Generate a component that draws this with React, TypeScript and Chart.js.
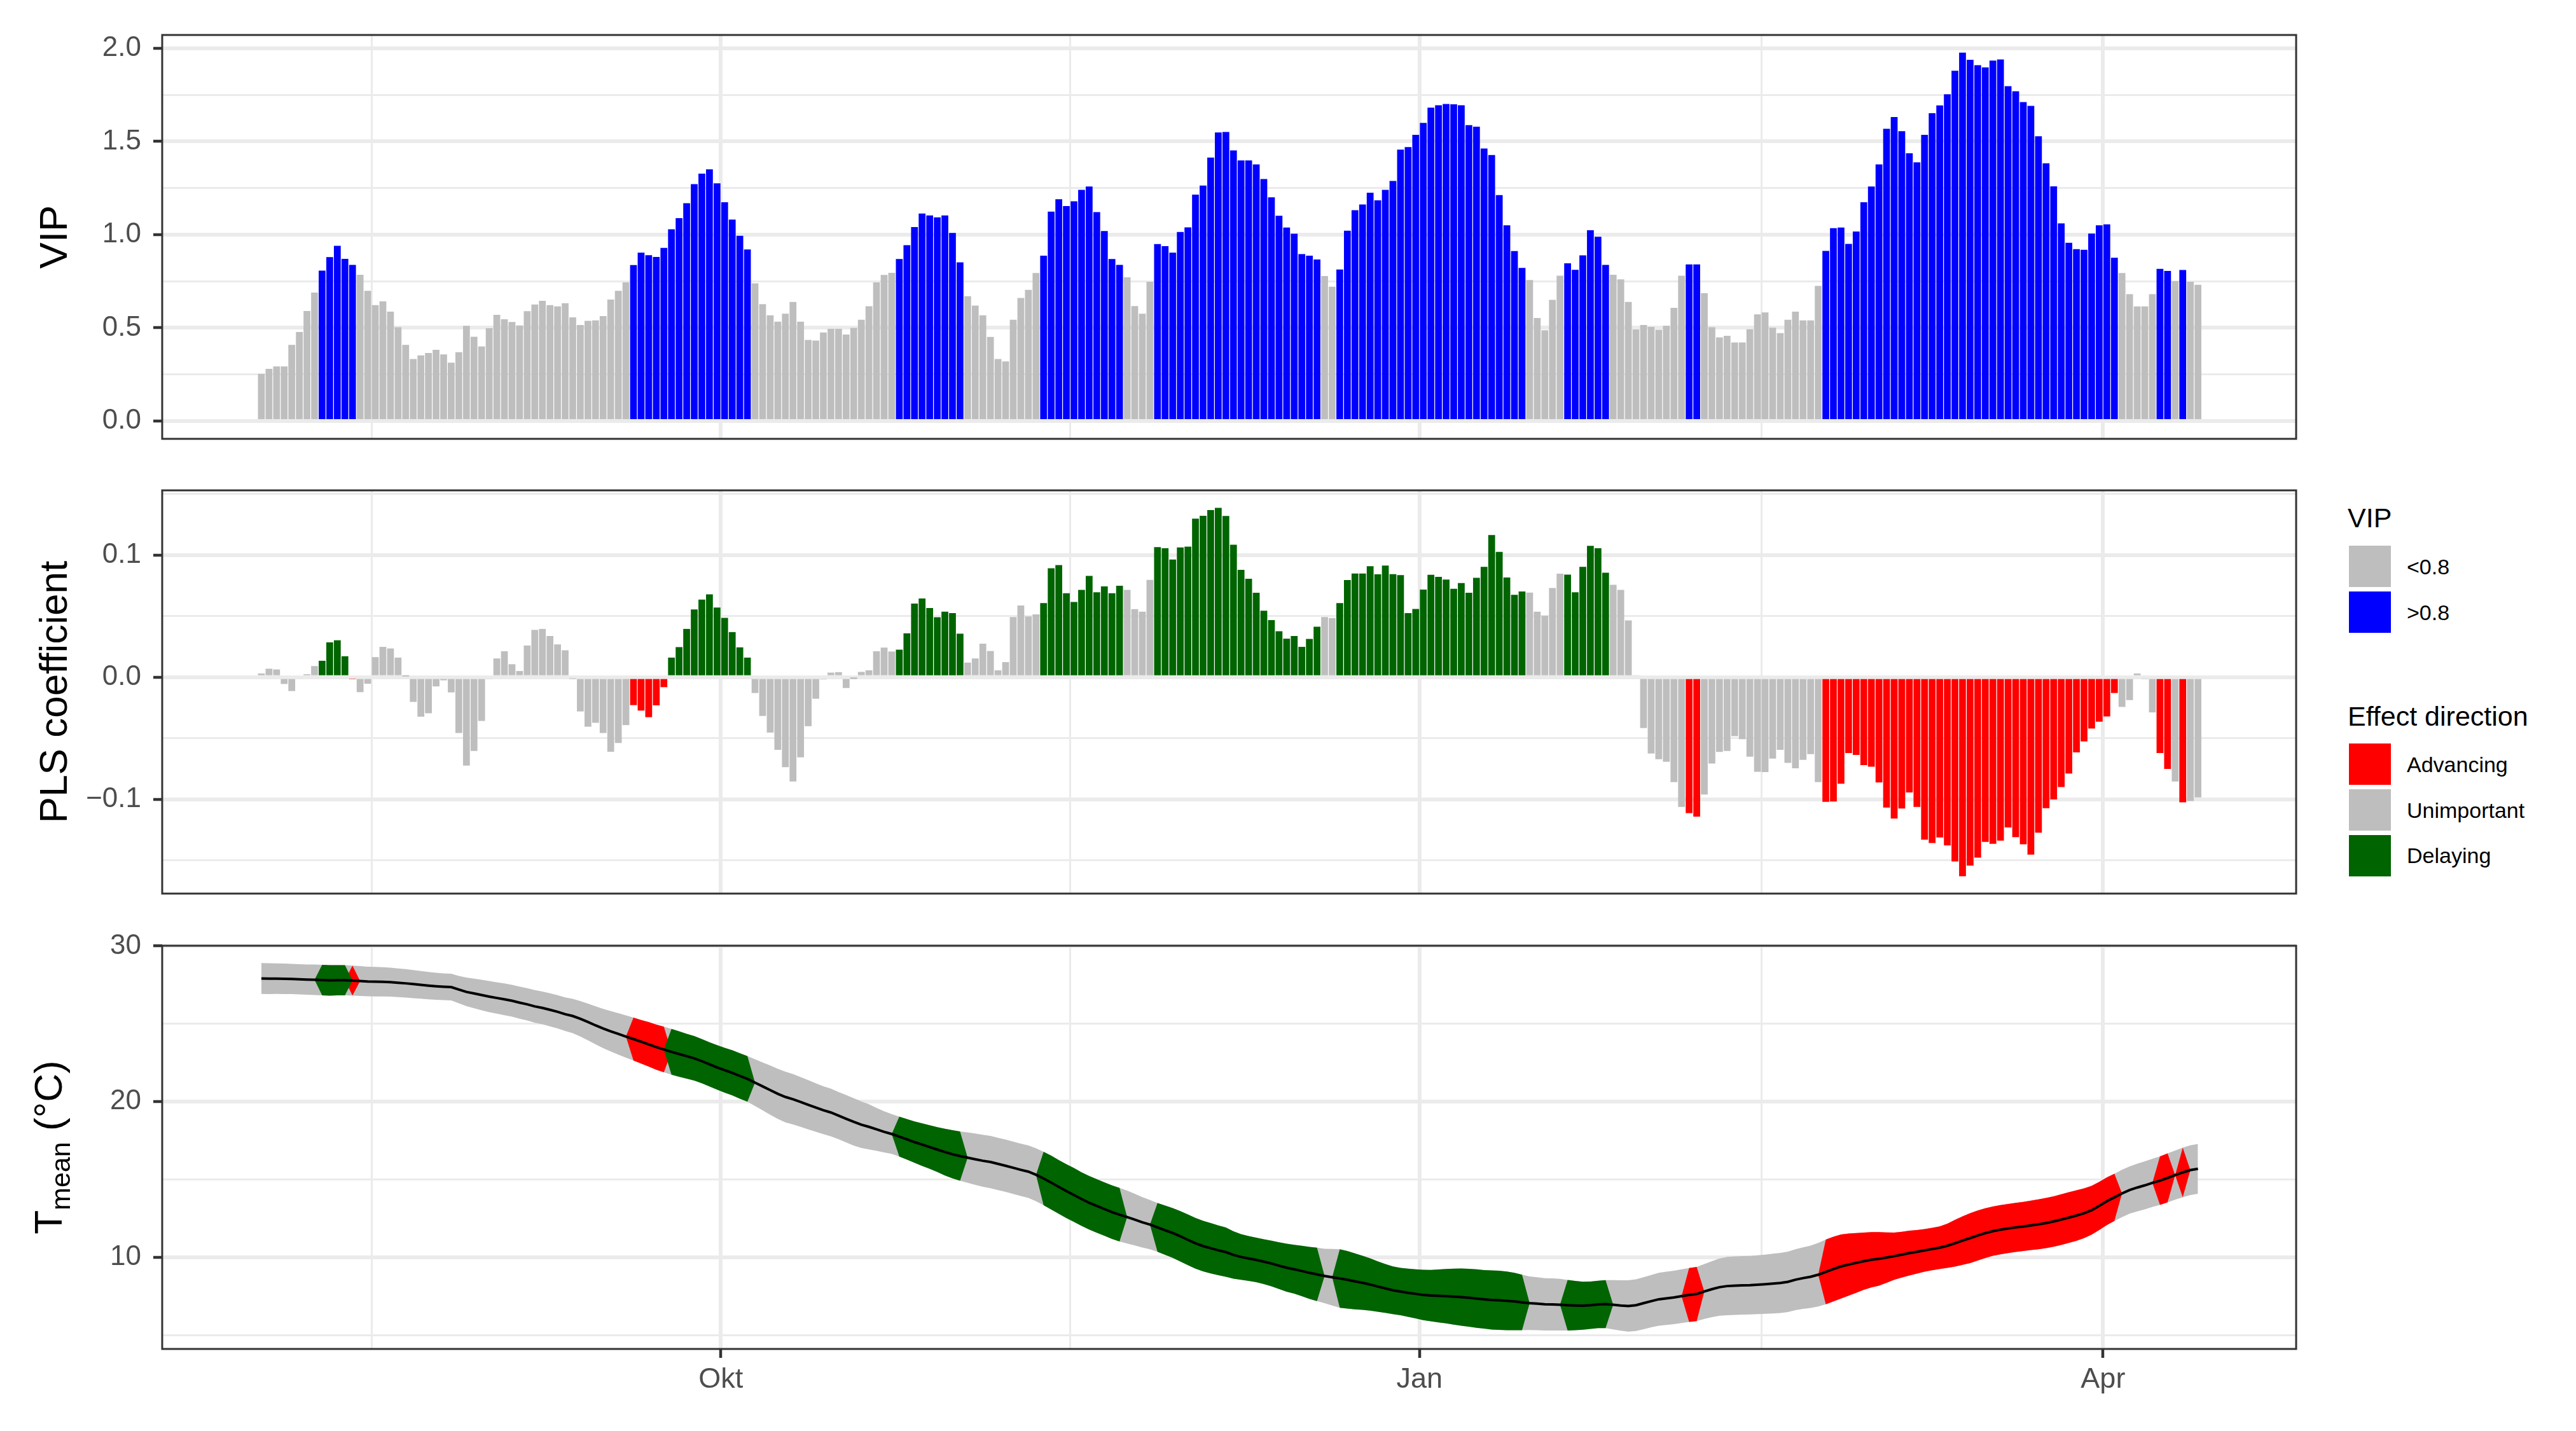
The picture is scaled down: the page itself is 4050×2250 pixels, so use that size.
import React, { useEffect, useRef } from 'react';
import { Chart, registerables } from 'chart.js';

Chart.register(...registerables);

const FONT = "'Liberation Sans', Arial, Helvetica, sans-serif";

// ---- Data: one value per day, day 0 = 2 Aug ----
const VIP: number[] = [
  0.253, 0.28, 0.293, 0.293, 0.409, 0.478, 0.59, 0.689, 0.807, 0.879,
  0.94, 0.87, 0.838, 0.785, 0.699, 0.622, 0.642, 0.587, 0.503, 0.409,
  0.333, 0.352, 0.365, 0.382, 0.357, 0.313, 0.369, 0.511, 0.452, 0.4,
  0.498, 0.57, 0.546, 0.531, 0.513, 0.589, 0.625, 0.645, 0.622, 0.615,
  0.632, 0.556, 0.515, 0.537, 0.54, 0.563, 0.652, 0.699, 0.744, 0.837,
  0.903, 0.89, 0.88, 0.929, 1.029, 1.088, 1.169, 1.271, 1.327, 1.35,
  1.275, 1.174, 1.081, 0.994, 0.92, 0.739, 0.627, 0.567, 0.533, 0.576,
  0.639, 0.533, 0.435, 0.432, 0.475, 0.495, 0.495, 0.464, 0.5, 0.543,
  0.616, 0.744, 0.784, 0.795, 0.869, 0.943, 1.041, 1.113, 1.103, 1.093,
  1.103, 1.009, 0.851, 0.67, 0.619, 0.567, 0.451, 0.333, 0.32, 0.543,
  0.66, 0.704, 0.794, 0.887, 1.123, 1.19, 1.153, 1.179, 1.24, 1.258,
  1.121, 1.019, 0.869, 0.838, 0.771, 0.617, 0.576, 0.747, 0.949, 0.938,
  0.903, 1.014, 1.039, 1.215, 1.263, 1.413, 1.548, 1.551, 1.452, 1.398,
  1.398, 1.377, 1.298, 1.2, 1.101, 1.038, 1.005, 0.896, 0.887, 0.867,
  0.778, 0.721, 0.813, 1.021, 1.131, 1.162, 1.225, 1.184, 1.24, 1.288,
  1.456, 1.47, 1.535, 1.599, 1.681, 1.694, 1.701, 1.699, 1.694, 1.587,
  1.579, 1.462, 1.427, 1.212, 1.05, 0.912, 0.821, 0.757, 0.553, 0.487,
  0.65, 0.78, 0.846, 0.811, 0.889, 1.024, 0.989, 0.838, 0.785, 0.76,
  0.639, 0.491, 0.515, 0.505, 0.49, 0.511, 0.607, 0.78, 0.84, 0.84,
  0.686, 0.503, 0.449, 0.457, 0.421, 0.421, 0.492, 0.572, 0.583, 0.501,
  0.472, 0.543, 0.587, 0.54, 0.54, 0.725, 0.913, 1.035, 1.038, 0.95,
  1.017, 1.174, 1.258, 1.377, 1.568, 1.631, 1.555, 1.436, 1.388, 1.535,
  1.651, 1.693, 1.753, 1.879, 1.976, 1.938, 1.909, 1.897, 1.934, 1.94,
  1.796, 1.769, 1.711, 1.691, 1.528, 1.383, 1.259, 1.06, 0.956, 0.922,
  0.919, 1.006, 1.05, 1.055, 0.876, 0.794, 0.681, 0.615, 0.615, 0.681,
  0.816, 0.805, 0.751, 0.81, 0.747, 0.731,
];

const PLS_COEF: number[] = [
  0.003, 0.0069, 0.0063, -0.0056, -0.0114, -0.0015, 0.0024, 0.0091, 0.0134, 0.0285,
  0.0302, 0.0171, -0.0013, -0.0123, -0.0054, 0.0164, 0.0248, 0.0235, 0.016, 0.0005,
  -0.0203, -0.0324, -0.0296, -0.0076, -0.0026, -0.0125, -0.0458, -0.0724, -0.0605, -0.0359,
  -0.0017, 0.0153, 0.0212, 0.0106, 0.005, 0.0259, 0.0387, 0.0395, 0.0337, 0.0268,
  0.022, -0.001, -0.0281, -0.0406, -0.0374, -0.0458, -0.0611, -0.054, -0.0393, -0.0229,
  -0.0274, -0.0328, -0.0231, -0.0082, 0.016, 0.0246, 0.0395, 0.0555, 0.0635, 0.0678,
  0.057, 0.0486, 0.0369, 0.0244, 0.016, -0.013, -0.0318, -0.0454, -0.0596, -0.0737,
  -0.0855, -0.0657, -0.0402, -0.0177, -0.0019, 0.0037, 0.0041, -0.0089, -0.0002, 0.0043,
  0.0056, 0.0212, 0.0242, 0.021, 0.0225, 0.0359, 0.0603, 0.0644, 0.0566, 0.049,
  0.0536, 0.0525, 0.0356, 0.0119, 0.0153, 0.0274, 0.0214, 0.0056, 0.0123, 0.0492,
  0.0587, 0.0497, 0.0514, 0.0607, 0.0892, 0.0918, 0.0687, 0.0616, 0.0715, 0.0829,
  0.0695, 0.0743, 0.0687, 0.0749, 0.0715, 0.0557, 0.0536, 0.0797, 0.1065, 0.1056,
  0.0963, 0.1063, 0.1069, 0.1298, 0.1322, 0.1369, 0.1387, 0.132, 0.1084, 0.0879,
  0.0806, 0.0691, 0.0544, 0.0467, 0.0376, 0.0315, 0.0337, 0.0248, 0.0313, 0.0413,
  0.0492, 0.0484, 0.0607, 0.0795, 0.0849, 0.0849, 0.0909, 0.0842, 0.0914, 0.0844,
  0.0836, 0.0525, 0.0559, 0.0717, 0.0838, 0.0821, 0.0799, 0.0724, 0.0771, 0.0691,
  0.0814, 0.0903, 0.1164, 0.1026, 0.0816, 0.0674, 0.0702, 0.0693, 0.0536, 0.0503,
  0.073, 0.0847, 0.084, 0.0695, 0.0903, 0.1076, 0.1056, 0.0855, 0.0756, 0.0715,
  0.0464, 0.0017, -0.0417, -0.0626, -0.0672, -0.0693, -0.086, -0.1063, -0.1114, -0.1143,
  -0.0961, -0.0708, -0.0613, -0.0605, -0.0484, -0.0508, -0.0652, -0.0775, -0.0778, -0.0667,
  -0.0596, -0.0702, -0.0747, -0.0678, -0.0631, -0.086, -0.1022, -0.1019, -0.0873, -0.0622,
  -0.0637, -0.0721, -0.0734, -0.0862, -0.1069, -0.1158, -0.1076, -0.0944, -0.1063, -0.1331,
  -0.1359, -0.1313, -0.1378, -0.151, -0.1631, -0.1544, -0.1479, -0.135, -0.1365, -0.1339,
  -0.1231, -0.1311, -0.1369, -0.1454, -0.1274, -0.1073, -0.1002, -0.0901, -0.079, -0.0616,
  -0.0527, -0.0421, -0.0365, -0.0322, -0.013, -0.0244, -0.0188, 0.003, -0.0013, -0.0289,
  -0.0622, -0.0752, -0.0855, -0.1026, -0.1015, -0.0985,
];

const TEMP_MEAN: number[] = [
  27.91, 27.9, 27.9, 27.89, 27.88, 27.86, 27.84, 27.83, 27.81, 27.79,
  27.8, 27.8, 27.78, 27.75, 27.72, 27.71, 27.7, 27.68, 27.64, 27.6,
  27.55, 27.5, 27.45, 27.41, 27.38, 27.36, 27.2, 27.05, 26.95, 26.85,
  26.75, 26.66, 26.57, 26.48, 26.36, 26.25, 26.12, 26.02, 25.9, 25.77,
  25.62, 25.5, 25.32, 25.12, 24.9, 24.7, 24.52, 24.35, 24.18, 24.02,
  23.85, 23.68, 23.5, 23.35, 23.2, 23.06, 22.92, 22.78, 22.6, 22.4,
  22.2, 22.02, 21.85, 21.65, 21.46, 21.22, 20.98, 20.74, 20.5, 20.3,
  20.15, 19.98, 19.8, 19.62, 19.45, 19.3, 19.1, 18.9, 18.7, 18.52,
  18.38, 18.22, 18.06, 17.92, 17.75, 17.58, 17.4, 17.24, 17.08, 16.92,
  16.76, 16.62, 16.5, 16.4, 16.3, 16.2, 16.12, 16.0, 15.88, 15.75,
  15.62, 15.5, 15.3, 15.06, 14.8, 14.52, 14.25, 14.0, 13.74, 13.5,
  13.3, 13.1, 12.9, 12.74, 12.58, 12.42, 12.25, 12.1, 11.92, 11.74,
  11.56, 11.35, 11.12, 10.9, 10.72, 10.58, 10.45, 10.33, 10.15, 10.02,
  9.92, 9.83, 9.72, 9.6, 9.46, 9.33, 9.23, 9.12, 9.0, 8.9,
  8.8, 8.72, 8.64, 8.55, 8.45, 8.36, 8.25, 8.12, 8.0, 7.88,
  7.8, 7.72, 7.65, 7.58, 7.54, 7.52, 7.5, 7.47, 7.44, 7.4,
  7.35, 7.3, 7.26, 7.24, 7.2, 7.16, 7.1, 7.05, 7.02, 6.98,
  6.97, 6.95, 6.92, 6.9, 6.89, 6.92, 6.97, 6.99, 6.95, 6.9,
  6.87, 6.92, 7.05, 7.18, 7.3, 7.36, 7.42, 7.5, 7.58, 7.64,
  7.8, 7.95, 8.08, 8.15, 8.18, 8.2, 8.21, 8.24, 8.27, 8.31,
  8.35, 8.42, 8.56, 8.66, 8.75, 8.88, 9.06, 9.24, 9.41, 9.53,
  9.64, 9.75, 9.84, 9.9, 9.98, 10.07, 10.17, 10.27, 10.35, 10.44,
  10.53, 10.62, 10.74, 10.9, 11.07, 11.23, 11.4, 11.55, 11.68, 11.77,
  11.85, 11.92, 11.98, 12.05, 12.12, 12.2, 12.3, 12.42, 12.55, 12.68,
  12.83, 13.02, 13.3, 13.6, 13.85, 14.1, 14.32, 14.48, 14.62, 14.78,
  14.92, 15.1, 15.28, 15.45, 15.6, 15.68,
];

const TEMP_SD: number[] = [
  0.99, 0.99, 0.98, 0.98, 0.97, 0.97, 0.97, 0.98, 0.98, 0.98,
  0.97, 0.97, 0.96, 0.96, 0.95, 0.95, 0.94, 0.93, 0.92, 0.91,
  0.9, 0.89, 0.88, 0.87, 0.86, 0.86, 0.88, 0.92, 0.95, 0.98,
  1.0, 1.01, 1.02, 1.02, 1.03, 1.04, 1.05, 1.05, 1.06, 1.07,
  1.08, 1.1, 1.14, 1.18, 1.22, 1.26, 1.3, 1.33, 1.36, 1.38,
  1.4, 1.43, 1.45, 1.47, 1.47, 1.46, 1.44, 1.43, 1.42, 1.42,
  1.43, 1.44, 1.45, 1.46, 1.47, 1.5, 1.54, 1.58, 1.61, 1.63,
  1.62, 1.6, 1.58, 1.56, 1.54, 1.53, 1.52, 1.52, 1.52, 1.5,
  1.45, 1.38, 1.32, 1.28, 1.28, 1.3, 1.33, 1.37, 1.4, 1.44,
  1.5, 1.55, 1.58, 1.62, 1.65, 1.67, 1.68, 1.68, 1.68, 1.68,
  1.68, 1.69, 1.7, 1.72, 1.73, 1.73, 1.73, 1.73, 1.72, 1.72,
  1.72, 1.72, 1.72, 1.72, 1.7, 1.66, 1.62, 1.58, 1.57, 1.58,
  1.6, 1.62, 1.63, 1.63, 1.62, 1.62, 1.6, 1.58, 1.52, 1.47,
  1.44, 1.43, 1.44, 1.47, 1.5, 1.54, 1.57, 1.62, 1.67, 1.72,
  1.75, 1.82, 1.88, 1.85, 1.8, 1.74, 1.68, 1.62, 1.57, 1.53,
  1.52, 1.55, 1.58, 1.62, 1.65, 1.7, 1.75, 1.8, 1.84, 1.86,
  1.88, 1.88, 1.9, 1.9, 1.88, 1.84, 1.78, 1.72, 1.7, 1.68,
  1.68, 1.66, 1.62, 1.58, 1.54, 1.52, 1.52, 1.54, 1.58, 1.62,
  1.65, 1.66, 1.67, 1.68, 1.7, 1.71, 1.72, 1.73, 1.73, 1.74,
  1.76, 1.8, 1.84, 1.87, 1.88, 1.88, 1.88, 1.89, 1.9, 1.92,
  1.93, 1.94, 1.96, 1.98, 2.0, 2.04, 2.08, 2.08, 2.06, 2.0,
  1.92, 1.84, 1.78, 1.72, 1.62, 1.52, 1.47, 1.44, 1.4, 1.37,
  1.36, 1.37, 1.42, 1.5, 1.56, 1.6, 1.61, 1.6, 1.58, 1.58,
  1.58, 1.58, 1.58, 1.59, 1.6, 1.61, 1.62, 1.63, 1.63, 1.62,
  1.6, 1.57, 1.55, 1.53, 1.52, 1.52, 1.52, 1.53, 1.54, 1.55,
  1.56, 1.57, 1.58, 1.59, 1.6, 1.6,
];

const VIP_THRESHOLD = 0.8;

// x axis (days since 2 Aug); gridlines sit between day bars
const X_MAJOR = [60.5, 152.5, 242.5];
const X_MAJOR_LABELS = ['Okt', 'Jan', 'Apr'];
const X_MINOR = [14.5, 106.5, 197.5];
const X_MIN = -13.06;
const X_MAX = 267.93;

const VIP_MAJOR = [0, 0.5, 1, 1.5, 2];
const VIP_MINOR = [0.25, 0.75, 1.25, 1.75];
const VIP_TICK_LABELS = ['0.0', '0.5', '1.0', '1.5', '2.0'];
const VIP_RANGE = [-0.0955, 2.071];

const PLS_MAJOR = [-0.1, 0, 0.1];
const PLS_MINOR = [-0.15, -0.05, 0.05, 0.15];
const PLS_TICK_LABELS = ['\u22120.1', '0.0', '0.1'];
const PLS_RANGE = [-0.1773, 0.153];

const T_MAJOR = [10, 20, 30];
const T_MINOR = [5, 15, 25];
const T_TICK_LABELS = ['10', '20', '30'];
const T_RANGE = [4.11, 30.016];

const GREY = '#BEBEBE';
const BLUE = '#0000FF';
const RED = '#FF0000';
const GREEN = '#006400';

const LEGEND_VIP_LABELS = ['<0.8', '>0.8'];
const LEGEND_VIP_COLORS = [GREY, BLUE];
const LEGEND_EFFECT_LABELS = ['Advancing', 'Unimportant', 'Delaying'];
const LEGEND_EFFECT_COLORS = [RED, GREY, GREEN];

// ---- Layout ----
const CANVAS_W = 3640;
const PLOT_LEFT = 255;
const PAD_RIGHT = 30;

const near = (v: number, arr: number[]) => arr.some((a) => Math.abs(a - v) < 1e-6);

function yScale(range: number[], major: number[], minor: number[], labels: string[]) {
  const [min, max] = range;
  const all = [...major, ...minor].filter((v) => v >= min && v <= max).sort((a, b) => a - b);
  return {
    type: 'linear',
    min,
    max,
    afterFit: (s: any) => {
      s.width = PLOT_LEFT;
      s.paddingTop = 0;
      s.paddingBottom = 0;
    },
    afterBuildTicks: (s: any) => {
      s.ticks = all.map((v) => ({ value: v }));
    },
    ticks: {
      autoSkip: false,
      padding: 19,
      color: '#4D4D4D',
      font: { family: FONT, size: 44 },
      callback: (v: number) => {
        const k = major.findIndex((m) => Math.abs(m - v) < 1e-6);
        return k >= 0 ? labels[k] : '';
      },
    },
    grid: {
      color: '#EBEBEB',
      lineWidth: (c: any) => (near(c.tick ? c.tick.value : NaN, major) ? 6 : 3),
      drawTicks: true,
      tickLength: 14,
      tickWidth: 4.5,
      tickColor: (c: any) => (near(c.tick ? c.tick.value : NaN, major) ? '#333333' : 'rgba(0,0,0,0)'),
    },
    border: { display: false },
  };
}

function xScale(showLabels: boolean, height: number) {
  const all = [...X_MAJOR, ...X_MINOR].sort((a, b) => a - b);
  return {
    type: 'linear',
    min: X_MIN,
    max: X_MAX,
    offset: false,
    afterFit: (s: any) => {
      s.height = height;
      s.paddingLeft = 0;
      s.paddingRight = 0;
    },
    afterBuildTicks: (s: any) => {
      s.ticks = all.map((v) => ({ value: v }));
    },
    ticks: {
      display: showLabels,
      autoSkip: false,
      maxRotation: 0,
      minRotation: 0,
      padding: 8,
      color: '#4D4D4D',
      font: { family: FONT, size: 45 },
      callback: (v: number) => {
        const k = X_MAJOR.findIndex((m) => Math.abs(m - v) < 1e-6);
        return k >= 0 ? X_MAJOR_LABELS[k] : '';
      },
    },
    grid: {
      offset: false,
      color: '#EBEBEB',
      lineWidth: (c: any) => (near(c.tick ? c.tick.value : NaN, X_MAJOR) ? 6 : 3),
      drawTicks: showLabels,
      tickLength: 14,
      tickWidth: 4.5,
      tickColor: (c: any) => (near(c.tick ? c.tick.value : NaN, X_MAJOR) ? '#333333' : 'rgba(0,0,0,0)'),
    },
    border: { display: false },
  };
}

const borderPlugin = {
  id: 'panelBorder',
  afterDraw(chart: any) {
    const { ctx, chartArea: a } = chart;
    ctx.save();
    ctx.strokeStyle = '#333333';
    ctx.lineWidth = 3;
    ctx.strokeRect(a.left, a.top, a.right - a.left, a.bottom - a.top);
    ctx.restore();
  },
};

function titlePlugin(draw: (ctx: CanvasRenderingContext2D, chart: any) => void) {
  return {
    id: 'yTitle',
    afterDraw(chart: any) {
      const ctx = chart.ctx as CanvasRenderingContext2D;
      ctx.save();
      draw(ctx, chart);
      ctx.restore();
    },
  };
}

function simpleTitle(text: string) {
  return titlePlugin((ctx, chart) => {
    const a = chart.chartArea;
    ctx.translate(105, (a.top + a.bottom) / 2);
    ctx.rotate(-Math.PI / 2);
    ctx.font = `62px ${FONT}`;
    ctx.fillStyle = '#000000';
    ctx.textAlign = 'center';
    ctx.textBaseline = 'alphabetic';
    ctx.fillText(text, 0, 0);
  });
}

const tempTitle = titlePlugin((ctx, chart) => {
  const a = chart.chartArea;
  ctx.translate(97, (a.top + a.bottom) / 2);
  ctx.rotate(-Math.PI / 2);
  ctx.fillStyle = '#000000';
  ctx.textBaseline = 'alphabetic';
  ctx.textAlign = 'left';
  const big = `62px ${FONT}`;
  const small = `43px ${FONT}`;
  ctx.font = big;
  const wT = ctx.measureText('T').width;
  const wC = ctx.measureText(' (\u00B0C)').width;
  ctx.font = small;
  const wM = ctx.measureText('mean').width;
  let x = -(wT + wM + wC) / 2;
  ctx.font = big;
  ctx.fillText('T', x, 0);
  x += wT;
  ctx.font = small;
  ctx.fillText('mean', x, 13);
  x += wM;
  ctx.font = big;
  ctx.fillText(' (\u00B0C)', x, 0);
});

const baseOptions = (padTop: number) => ({
  responsive: false,
  maintainAspectRatio: false,
  animation: false as const,
  devicePixelRatio: 1,
  events: [] as any[],
  layout: { padding: { top: padTop, right: PAD_RIGHT, left: 0, bottom: 0 } },
  plugins: { legend: { display: false }, tooltip: { enabled: false }, title: { display: false } },
});

function LegendText({ x, cy, size, text }: { x: number; cy: number; size: number; text: string }) {
  return (
    <div
      style={{
        position: 'absolute',
        left: x,
        top: cy - 0.4885 * size,
        fontFamily: FONT,
        fontSize: size,
        lineHeight: `${size}px`,
        color: '#000000',
        whiteSpace: 'nowrap',
      }}
    >
      {text}
    </div>
  );
}

function LegendBox({ x, y, color }: { x: number; y: number; color: string }) {
  return <div style={{ position: 'absolute', left: x, top: y, width: 66, height: 65, background: color }} />;
}

export default function App() {
  const vipRef = useRef<HTMLCanvasElement>(null);
  const plsRef = useRef<HTMLCanvasElement>(null);
  const tRef = useRef<HTMLCanvasElement>(null);

  useEffect(() => {
    const days = VIP.map((_, i) => i);
    const isRed = VIP.map((v, i) => v > VIP_THRESHOLD && PLS_COEF[i] < 0);
    const isGreen = VIP.map((v, i) => v > VIP_THRESHOLD && PLS_COEF[i] > 0);

    const vipChart = new Chart(vipRef.current as HTMLCanvasElement, {
      type: 'bar',
      data: {
        datasets: [
          {
            data: days.map((d, i) => ({ x: d, y: VIP[i] })),
            backgroundColor: VIP.map((v) => (v > VIP_THRESHOLD ? BLUE : GREY)),
            borderWidth: 0,
            barPercentage: 0.9,
            categoryPercentage: 1,
          } as any,
        ],
      },
      options: {
        ...baseOptions(55),
        scales: {
          x: xScale(false, 720 - 690),
          y: yScale(VIP_RANGE, VIP_MAJOR, VIP_MINOR, VIP_TICK_LABELS),
        },
      } as any,
      plugins: [borderPlugin, simpleTitle('VIP')],
    });

    const plsChart = new Chart(plsRef.current as HTMLCanvasElement, {
      type: 'bar',
      data: {
        datasets: [
          {
            data: days.map((d, i) => ({ x: d, y: PLS_COEF[i] })),
            backgroundColor: days.map((i) => (isRed[i] ? RED : isGreen[i] ? GREEN : GREY)),
            borderWidth: 0,
            barPercentage: 0.9,
            categoryPercentage: 1,
          } as any,
        ],
      },
      options: {
        ...baseOptions(51),
        scales: {
          x: xScale(false, 720 - 685),
          y: yScale(PLS_RANGE, PLS_MAJOR, PLS_MINOR, PLS_TICK_LABELS),
        },
      } as any,
      plugins: [borderPlugin, simpleTitle('PLS coefficient')],
    });

    const series = (f: (i: number) => number) => days.map((d, i) => ({ x: d, y: f(i) }));
    const ribbon = (upper: any[], lower: any[], color: string, order: number) => [
      { data: upper, borderWidth: 0, borderColor: 'rgba(0,0,0,0)', pointRadius: 0, fill: false, order, tension: 0 },
      {
        data: lower,
        borderWidth: 0,
        borderColor: 'rgba(0,0,0,0)',
        pointRadius: 0,
        fill: '-1',
        backgroundColor: color,
        order,
        tension: 0,
      },
    ];

    const tChart = new Chart(tRef.current as HTMLCanvasElement, {
      type: 'line',
      data: {
        datasets: [
          ...ribbon(
            series((i) => TEMP_MEAN[i] + TEMP_SD[i]),
            series((i) => TEMP_MEAN[i] - TEMP_SD[i]),
            GREY,
            3
          ),
          ...ribbon(
            series((i) => TEMP_MEAN[i] + (isRed[i] ? TEMP_SD[i] : 0)),
            series((i) => TEMP_MEAN[i] - (isRed[i] ? TEMP_SD[i] : 0)),
            RED,
            2
          ),
          ...ribbon(
            series((i) => TEMP_MEAN[i] + (isGreen[i] ? TEMP_SD[i] : 0)),
            series((i) => TEMP_MEAN[i] - (isGreen[i] ? TEMP_SD[i] : 0)),
            GREEN,
            1
          ),
          {
            data: series((i) => TEMP_MEAN[i]),
            borderColor: '#000000',
            borderWidth: 4,
            pointRadius: 0,
            fill: false,
            order: 0,
            tension: 0,
          },
        ] as any,
      },
      options: {
        ...baseOptions(47),
        scales: {
          x: xScale(true, 810 - 681),
          y: yScale(T_RANGE, T_MAJOR, T_MINOR, T_TICK_LABELS),
        },
      } as any,
      plugins: [borderPlugin, tempTitle],
    });

    return () => {
      vipChart.destroy();
      plsChart.destroy();
      tChart.destroy();
    };
  }, []);

  const canvasStyle = (top: number, h: number): React.CSSProperties => ({
    position: 'absolute',
    left: 0,
    top,
    width: CANVAS_W,
    height: h,
  });

  const vipKeyTop = 858;
  const effKeyTop = 1169;
  const keyPitch = 71.8;

  return (
    <div
      style={{
        position: 'absolute',
        left: 0,
        top: 0,
        width: 4050,
        height: 2250,
        background: '#FFFFFF',
        overflow: 'hidden',
      }}
    >
      <canvas ref={vipRef} width={CANVAS_W} height={720} style={canvasStyle(0, 720)} />
      <canvas ref={plsRef} width={CANVAS_W} height={720} style={canvasStyle(720, 720)} />
      <canvas ref={tRef} width={CANVAS_W} height={810} style={canvasStyle(1440, 810)} />

      <LegendText x={3691} cy={814} size={43} text="VIP" />
      {LEGEND_VIP_LABELS.map((lab, k) => (
        <React.Fragment key={lab}>
          <LegendBox x={3693} y={vipKeyTop + k * keyPitch} color={LEGEND_VIP_COLORS[k]} />
          <LegendText x={3784} cy={vipKeyTop + k * keyPitch + 32.5} size={34} text={lab} />
        </React.Fragment>
      ))}

      <LegendText x={3691} cy={1126} size={43} text="Effect direction" />
      {LEGEND_EFFECT_LABELS.map((lab, k) => (
        <React.Fragment key={lab}>
          <LegendBox x={3693} y={effKeyTop + k * keyPitch} color={LEGEND_EFFECT_COLORS[k]} />
          <LegendText x={3784} cy={effKeyTop + k * keyPitch + 32.5} size={34} text={lab} />
        </React.Fragment>
      ))}
    </div>
  );
}
